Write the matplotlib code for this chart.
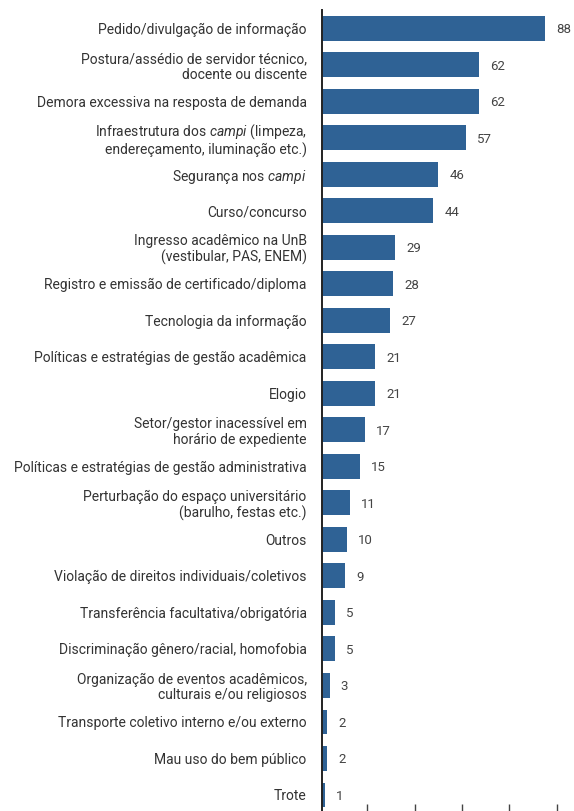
import matplotlib.pyplot as plt

plt.rcParams['font.family'] = ['Roboto', 'DejaVu Sans']
plt.rcParams['mathtext.fontset'] = 'custom'
plt.rcParams['mathtext.rm'] = 'Roboto'
plt.rcParams['mathtext.it'] = 'Roboto:italic'

# categories (top to bottom) and counts
categories = [
    "Pedido/divulgação de informação",
    "Postura/assédio de servidor técnico,\ndocente ou discente",
    "Demora excessiva na resposta de demanda",
    "Infraestrutura dos $\\mathit{campi}$ (limpeza,\nendereçamento, iluminação etc.)",
    "Segurança nos $\\mathit{campi}$",
    "Curso/concurso",
    "Ingresso acadêmico na UnB\n(vestibular, PAS, ENEM)",
    "Registro e emissão de certificado/diploma",
    "Tecnologia da informação",
    "Políticas e estratégias de gestão acadêmica",
    "Elogio",
    "Setor/gestor inacessível em\nhorário de expediente",
    "Políticas e estratégias de gestão administrativa",
    "Perturbação do espaço universitário\n(barulho, festas etc.)",
    "Outros",
    "Violação de direitos individuais/coletivos",
    "Transferência facultativa/obrigatória",
    "Discriminação gênero/racial, homofobia",
    "Organização de eventos acadêmicos,\nculturais e/ou religiosos",
    "Transporte coletivo interno e/ou externo",
    "Mau uso do bem público",
    "Trote",
]
values = [88, 62, 62, 57, 46, 44, 29, 28, 27, 21, 21, 17, 15, 11, 10, 9, 5, 5, 3, 2, 2, 1]
tick_marks = [17.8, 36.8, 55.3, 73.9, 92.9]

fig = plt.figure(figsize=(5.74, 8.11), dpi=100)
ax = fig.add_axes([322 / 574, 0.0, 252 / 574, 801 / 811])

ypos = list(range(len(values)))
ax.barh(ypos, values, height=0.68, color='#2f6295')

for y, v in zip(ypos, values):
    ax.annotate(str(v), (v, y), xytext=(8, -1), textcoords='offset points',
                ha='left', va='center', fontsize=9.5, color='#444444')

ax.set_ylim(21.44, -0.5)
ax.set_xlim(0, 99.6)
ax.set_yticks(ypos)
ax.set_yticklabels(categories, fontsize=10, color='#333333', linespacing=1.12)
ax.tick_params(axis='y', length=0, pad=11)
ax.set_xticks(tick_marks)
ax.set_xticklabels([])
ax.tick_params(axis='x', direction='in', length=5, width=1, color='#444444')

for s in ['top', 'right', 'bottom']:
    ax.spines[s].set_visible(False)
ax.spines['left'].set_linewidth(1.4)
ax.spines['left'].set_color('#222222')

fig.savefig('out.png', dpi=100)
